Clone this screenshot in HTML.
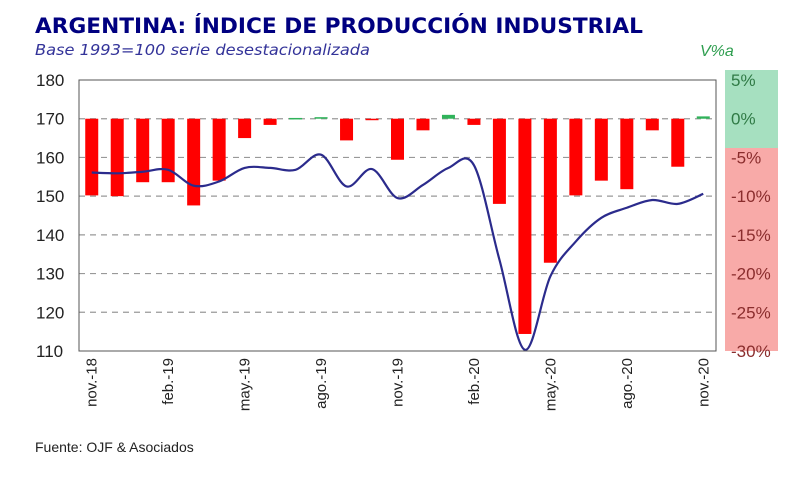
<!DOCTYPE html>
<html><head><meta charset="utf-8"><style>
body{margin:0;background:#fff;}
svg{display:block;font-family:"Liberation Sans",Arial,sans-serif;}
</style></head><body>
<svg id="chart" width="800" height="482" viewBox="0 0 800 482" xmlns="http://www.w3.org/2000/svg">
<text x="35" y="33" font-family="DejaVu Sans, sans-serif" font-weight="bold" font-size="21" fill="#000080" textLength="608" lengthAdjust="spacingAndGlyphs">ARGENTINA: ÍNDICE DE PRODUCCIÓN INDUSTRIAL</text>
<text x="35" y="55" font-family="DejaVu Sans, sans-serif" font-style="italic" font-size="15" fill="#333399" textLength="335" lengthAdjust="spacingAndGlyphs">Base 1993=100 serie desestacionalizada</text>
<text x="700" y="56" font-size="16" font-style="italic" fill="#2e9e4f">V%a</text>
<rect x="725" y="70" width="53" height="78" fill="#a6e0c0"/>
<rect x="725" y="148" width="53" height="203" fill="#f8aaa8"/>
<g id="grid"></g>
<g id="bars"></g>
<path id="line" fill="none" stroke="#2b2b8c" stroke-width="2.2"/>
<rect x="79" y="80" width="637" height="271" fill="none" stroke="#555" stroke-width="1"/>
<g id="ylabels"></g>
<g id="xlabels"></g>
<text x="35" y="452" font-size="14" fill="#222">Fuente: OJF &amp; Asociados</text>
</svg>
<script>
const months = ["nov.-18","dic.-18","ene.-19","feb.-19","mar.-19","abr.-19","may.-19","jun.-19","jul.-19","ago.-19","sep.-19","oct.-19","nov.-19","dic.-19","ene.-20","feb.-20","mar.-20","abr.-20","may.-20","jun.-20","jul.-20","ago.-20","sep.-20","oct.-20","nov.-20"];
const indexValues = [156.1,155.9,156.3,156.8,152.7,153.8,157.3,157.3,156.8,160.7,152.5,157.0,149.5,152.9,157.3,158.0,133.6,110.3,129.3,138.3,144.4,147.0,149.0,148.0,150.6];
const yoyValues = [-9.9,-10.0,-8.2,-8.2,-11.2,-8.0,-2.5,-0.8,0.1,0.2,-2.8,-0.1,-5.3,-1.5,0.5,-0.8,-11.0,-27.8,-18.6,-9.9,-8.0,-9.1,-1.5,-6.2,0.3];
const leftTicks = [110,120,130,140,150,160,170,180];
const rightTicks = ["5%","0%","-5%","-10%","-15%","-20%","-25%","-30%"];
const xTickLabels = ["nov.-18","feb.-19","may.-19","ago.-19","nov.-19","feb.-20","may.-20","ago.-20","nov.-20"];

const NS="http://www.w3.org/2000/svg";
const L=79,R=716,T=80,B=351;
const band=(R-L)/months.length;
const xC=i=>L+band*(i+0.5);
const yL=v=>B-(v-110)/(180-110)*(B-T);
const yP=p=>yL(170+p*2);
function mk(tag,attrs,parent,txt){const e=document.createElementNS(NS,tag);for(const k in attrs)e.setAttribute(k,attrs[k]);if(txt!==undefined)e.textContent=txt;document.getElementById(parent).appendChild(e);return e;}

leftTicks.forEach((t,i)=>{
  const y=yL(t);
  if(t>110&&t<180){const g=mk('line',{x1:L,x2:R,y1:y,y2:y,stroke:'#999','stroke-dasharray':'6,5','stroke-width':1.2},'grid');
  
  }
  const lt=mk('text',{x:36,y:y+6,'font-size':17,fill:'#222'},'ylabels',String(t));
  
  
  const rt=mk('text',{x:731,y:yP(5-5*i)+6,'font-size':17,fill:i<2?'#2f7a45':'#8a2d2d'},'ylabels',rightTicks[i]);
  
  
});
yoyValues.forEach((v,i)=>{
  const y0=yP(0),y1=yP(v);
  const r=mk('rect',{x:xC(i)-6.5,y:Math.min(y0,y1),width:13,height:Math.max(Math.abs(y1-y0),1.5),fill:v>=0?'#2fb35a':'#ff0000'},'bars');
  
  
});
const pts=indexValues.map((v,i)=>[xC(i),yL(v)]);
let d='M'+pts[0][0]+','+pts[0][1];
for(let i=0;i<pts.length-1;i++){
  const p0=pts[Math.max(i-1,0)],p1=pts[i],p2=pts[i+1],p3=pts[Math.min(i+2,pts.length-1)];
  const c1=[p1[0]+(p2[0]-p0[0])/6,p1[1]+(p2[1]-p0[1])/6];
  const c2=[p2[0]-(p3[0]-p1[0])/6,p2[1]-(p3[1]-p1[1])/6];
  d+=' C'+c1+' '+c2+' '+p2;
}
document.getElementById('line').setAttribute('d',d);
xTickLabels.forEach(lab=>{
  const i=months.indexOf(lab);
  const x=xC(i)+5;
  const t=mk('text',{x:x,y:358,'font-size':15,fill:'#222','text-anchor':'end',transform:'rotate(-90 '+x+' 358)'},'xlabels',lab);
  
  
});
</script>
</body></html>
